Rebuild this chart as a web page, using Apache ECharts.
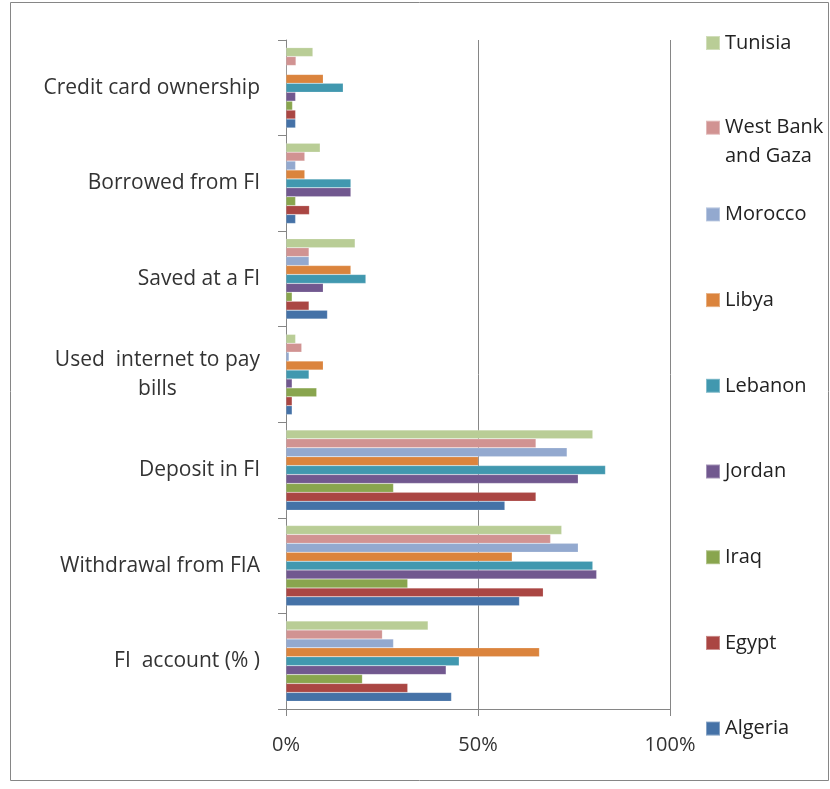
<!DOCTYPE html>
<html>
<head>
<meta charset="utf-8">
<script src="https://cdn.jsdelivr.net/npm/echarts@6/dist/echarts.min.js"></script>
<style>
  html, body { margin: 0; padding: 0; background: #fff; }
  #chart { width: 830px; height: 789px; }
</style>
</head>
<body>
<div id="chart"></div>
<script>
// Indicator categories, bottom to top
const categories = [
  'FI  account (% )',
  'Withdrawal from FIA',
  'Deposit in FI',
  'Used  internet to pay bills',
  'Saved at a FI',
  'Borrowed from FI',
  'Credit card ownership'
];

// Shares in percent, same order as categories
const algeria  = [43.1, 60.8, 57.0, 1.6, 10.8, 2.5, 2.5];
const egypt    = [31.7, 67.0, 65.1, 1.6, 6.0, 6.1, 2.5];
const iraq     = [19.9, 31.7, 28.0, 8.0, 1.6, 2.5, 1.7];
const jordan   = [41.7, 80.9, 76.1, 1.6, 9.7, 16.9, 2.5];
const lebanon  = [45.1, 79.9, 83.2, 6.0, 20.8, 16.9, 14.9];
const libya    = [66.0, 58.9, 50.1, 9.7, 16.9, 4.9, 9.7];
const morocco  = [28.0, 76.1, 73.2, 0.8, 6.0, 2.5, 0];
const westBank = [25.1, 68.9, 65.1, 4.1, 6.0, 4.9, 2.6];
const tunisia  = [37.0, 71.8, 79.9, 2.5, 18.0, 8.9, 7.0];

const xTicks = [0, 50, 100];

// Listed top-down within each category band (first series sits at the top)
const seriesDefs = [
  { name: 'Tunisia', data: tunisia, color: '#B9CD96' },
  { name: 'West Bank and Gaza', data: westBank, color: '#D19392' },
  { name: 'Morocco', data: morocco, color: '#93A9CF' },
  { name: 'Libya', data: libya, color: '#DB843D' },
  { name: 'Lebanon', data: lebanon, color: '#4198AF' },
  { name: 'Jordan', data: jordan, color: '#71588F' },
  { name: 'Iraq', data: iraq, color: '#89A54E' },
  { name: 'Egypt', data: egypt, color: '#AA4643' },
  { name: 'Algeria', data: algeria, color: '#4572A7' }
];

const FONT = '"Open Sans", "Noto Sans", sans-serif';
const FS = 20;
const FS_AXIS = 21;

// One legend block per country, stacked down the right side, Tunisia first.
// The wrapped name gets an empty leading line so its first line sits beside the swatch.
const legendTop0 = 42, legendStep = 85.7;
const legends = seriesDefs.map((s, i) => {
  const center = legendTop0 + legendStep * i;
  const twoLine = s.name === 'West Bank and Gaza';
  return {
    data: [s.name],
    orient: 'vertical',
    left: 705,
    top: twoLine ? center - 43.5 : center - 9,
    padding: 0,
    itemWidth: 14,
    itemHeight: 14,
    itemGap: 0,
    selectedMode: false,
    icon: 'rect',
    formatter: n => n === 'West Bank and Gaza' ? '\nWest Bank\nand Gaza' : n,
    textStyle: {
      fontFamily: FONT,
      fontSize: FS,
      color: '#222',
      lineHeight: twoLine ? 29 : 18
    }
  };
});

const chart = echarts.init(document.getElementById('chart'));
chart.setOption({
  animation: false,
  backgroundColor: '#fff',
  legend: legends,
  grid: { left: 286, right: 160, top: 40, bottom: 80, containLabel: false },
  xAxis: {
    type: 'value',
    min: 0,
    max: 100,
    interval: 50,
    axisLine: { show: true, lineStyle: { color: '#868686', width: 1 } },
    axisTick: { show: true, length: 7, lineStyle: { color: '#868686' } },
    splitLine: { show: true, lineStyle: { color: '#868686', width: 1 } },
    axisLabel: {
      margin: 26,
      fontFamily: FONT,
      fontSize: FS,
      color: '#333',
      formatter: v => xTicks.includes(v) ? v + '%' : ''
    }
  },
  yAxis: {
    type: 'category',
    data: categories,
    axisLine: { show: true, lineStyle: { color: '#868686', width: 1 } },
    axisTick: { show: true, length: 8, lineStyle: { color: '#868686' } },
    axisLabel: {
      margin: 26,
      fontFamily: FONT,
      fontSize: FS_AXIS,
      color: '#333',
      formatter: v => v === 'Used  internet to pay bills'
        ? '{c|Used  internet to pay}\n{c|bills}'
        : v,
      rich: {
        c: { align: 'center', fontFamily: FONT, fontSize: FS_AXIS, color: '#333', lineHeight: 29 }
      }
    }
  },
  series: seriesDefs.map(s => ({
    name: s.name,
    type: 'bar',
    data: s.data,
    barGap: '0%',
    barCategoryGap: '16%',
    itemStyle: { color: s.color, borderColor: 'rgba(255,255,255,0.35)', borderWidth: 0.5 }
  })),
  graphic: [{
    type: 'rect',
    shape: { x: 10.5, y: 2.5, width: 818, height: 778 },
    style: { fill: 'none', stroke: '#868686', lineWidth: 1 },
    silent: true,
    z: 100
  }]
});
</script>
</body>
</html>
